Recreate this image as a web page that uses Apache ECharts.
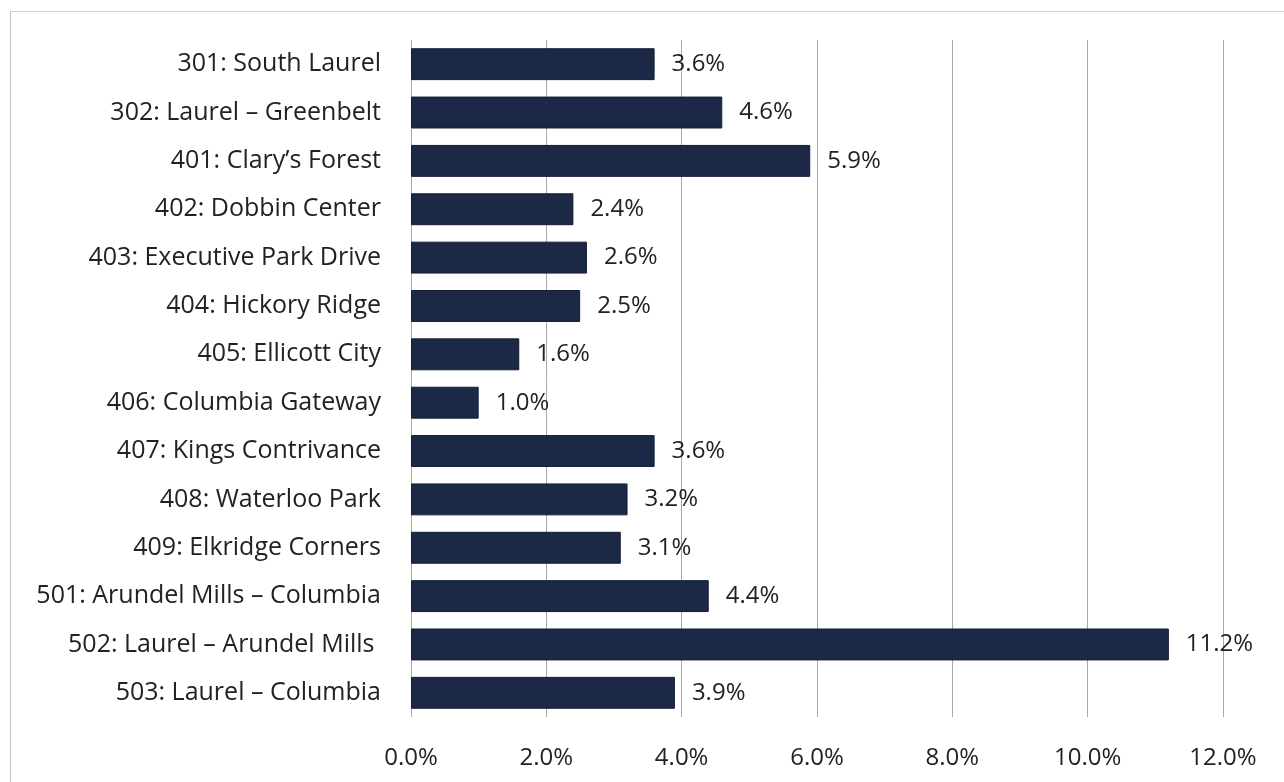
<!DOCTYPE html>
<html>
<head>
<meta charset="utf-8">
<script src="https://cdn.jsdelivr.net/npm/echarts@6/dist/echarts.min.js"></script>
<style>
  html, body { margin: 0; padding: 0; background: #ffffff; }
  #frame {
    position: absolute; left: 10px; top: 11px; width: 1300px; height: 800px;
    border-left: 1px solid #c4c4c4; border-top: 1px solid #d0d0d0;
  }
  #chart { position: absolute; left: 0; top: 0; width: 1284px; height: 782px; }
</style>
</head>
<body>
<div id="frame"></div>
<div id="chart"></div>
<script>
const routes = [
  '301: South Laurel',
  '302: Laurel \u2013 Greenbelt',
  '401: Clary\u2019s Forest',
  '402: Dobbin Center',
  '403: Executive Park Drive',
  '404: Hickory Ridge',
  '405: Ellicott City',
  '406: Columbia Gateway',
  '407: Kings Contrivance',
  '408: Waterloo Park',
  '409: Elkridge Corners',
  '501: Arundel Mills \u2013 Columbia',
  '502: Laurel \u2013 Arundel Mills ',
  '503: Laurel \u2013 Columbia'
];
const shares = [3.6, 4.6, 5.9, 2.4, 2.6, 2.5, 1.6, 1.0, 3.6, 3.2, 3.1, 4.4, 11.2, 3.9];
const axisTicks = [0, 2, 4, 6, 8, 10, 12];

const fontFamily = '"Open Sans", "Noto Sans", sans-serif';
const chart = echarts.init(document.getElementById('chart'), null, { renderer: 'canvas' });
chart.setOption({
  animation: false,
  backgroundColor: 'transparent',
  grid: { left: 411, top: 40, width: 812, height: 677, containLabel: false },
  xAxis: {
    type: 'value',
    min: axisTicks[0],
    max: axisTicks[axisTicks.length - 1],
    interval: axisTicks[1] - axisTicks[0],
    axisLine: { show: false },
    axisTick: { show: false },
    splitLine: { show: true, lineStyle: { color: '#a8a8a8', width: 1 } },
    axisLabel: {
      margin: 29,
      fontSize: 24,
      fontFamily: fontFamily,
      color: '#222222',
      formatter: v => v.toFixed(1) + '%'
    }
  },
  yAxis: {
    type: 'category',
    data: routes,
    inverse: true,
    axisLine: { show: false },
    axisTick: { show: false },
    axisLabel: {
      margin: 30,
      fontSize: 25,
      fontFamily: fontFamily,
      color: '#222222'
    }
  },
  series: [{
    type: 'bar',
    data: shares,
    barCategoryGap: '34%',
    itemStyle: { color: '#1b2947', borderColor: '#141e36', borderWidth: 1 },
    label: {
      show: true,
      position: 'right',
      distance: 17,
      fontSize: 24,
      fontFamily: fontFamily,
      color: '#222222',
      formatter: p => p.value.toFixed(1) + '%'
    }
  }]
});
</script>
</body>
</html>
